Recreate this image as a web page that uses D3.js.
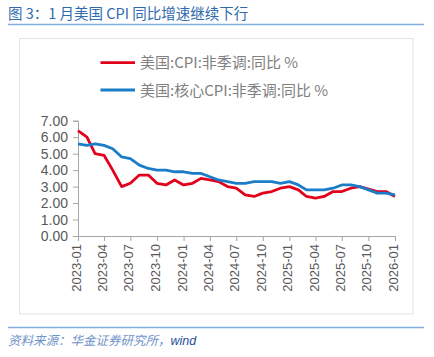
<!DOCTYPE html>
<html><head><meta charset="utf-8">
<script src="https://cdn.jsdelivr.net/npm/d3@7"></script>
<style>
body{margin:0;background:#fff;}
svg{display:block;font-family:"Liberation Sans",Arial,"Noto Sans CJK SC",sans-serif;}
</style></head><body>
<svg id="c" width="434" height="357"></svg>
<script>
const months = ["2023-01","2023-02","2023-03","2023-04","2023-05","2023-06","2023-07","2023-08","2023-09","2023-10","2023-11","2023-12",
"2024-01","2024-02","2024-03","2024-04","2024-05","2024-06","2024-07","2024-08","2024-09","2024-10","2024-11","2024-12",
"2025-01","2025-02","2025-03","2025-04","2025-05","2025-06","2025-07","2025-08","2025-09","2025-10","2025-11","2025-12","2026-01"];
const cpi = [6.4,6.0,5.0,4.9,4.0,3.0,3.2,3.7,3.7,3.2,3.1,3.4,
3.1,3.2,3.5,3.4,3.3,3.0,2.9,2.5,2.4,2.6,2.7,2.9,
3.0,2.8,2.4,2.3,2.4,2.7,2.7,2.9,3.0,null,2.7,2.7,2.4];
const coreCpi = [5.6,5.5,5.6,5.5,5.3,4.8,4.7,4.3,4.1,4.0,4.0,3.9,
3.9,3.8,3.8,3.6,3.4,3.3,3.2,3.2,3.3,3.3,3.3,3.2,
3.3,3.1,2.8,2.8,2.8,2.9,3.1,3.1,3.0,null,2.6,2.6,2.5];
const yTicks = [0,1,2,3,4,5,6,7];
const seriesNames = ["美国:CPI:非季调:同比 %","美国:核心CPI:非季调:同比 %"];
const seriesColors = ["#e3001b","#1b7cc8"];

const svg = d3.select("#c");
const parse = d3.timeParse("%Y-%m");
const dates = months.map(parse);

// title
svg.append("text").attr("x",8).attr("y",19).attr("font-size",14.5)
  .attr("fill","#2f6aae").attr("font-family","'Noto Sans CJK SC','Liberation Sans',sans-serif")
  .text("图 3：1 月美国 CPI 同比增速继续下行");
svg.append("line").attr("x1",8).attr("x2",424).attr("y1",24.5).attr("y2",24.5)
  .attr("stroke","#80b1dc").attr("stroke-width",1.5);

// frame
svg.append("rect").attr("x",19.5).attr("y",38.5).attr("width",393.5).attr("height",275.5)
  .attr("fill","none").attr("stroke","#e2e2e2").attr("stroke-width",1);

const x = d3.scaleTime().domain([dates[0], dates[dates.length-1]]).range([78,395]);
const y = d3.scaleLinear().domain([0,7]).range([236,120.7]);

// y axis
const ya = svg.append("g").attr("transform","translate(78,0)")
  .call(d3.axisLeft(y).tickValues(yTicks).tickFormat(d3.format(".2f")).tickSize(5).tickPadding(5));
ya.select(".domain").attr("stroke","#a6a6a6");
ya.selectAll(".tick line").attr("stroke","#a6a6a6");
ya.selectAll("text").attr("font-size",14).attr("fill","#595959").attr("font-family","'Liberation Sans',Arial,sans-serif");

// x axis
const xa = svg.append("g").attr("transform","translate(0,236)")
  .call(d3.axisBottom(x).ticks(d3.timeMonth.every(3)).tickFormat(d3.timeFormat("%Y-%m")).tickSize(5).tickSizeOuter(5));
xa.select(".domain").attr("stroke","#a6a6a6");
xa.selectAll(".tick line").attr("stroke","#a6a6a6");
xa.selectAll("text").attr("font-size",13).attr("fill","#595959")
  .attr("font-family","'Liberation Sans',Arial,sans-serif")
  .attr("text-anchor","end").attr("transform","translate(-2,8) rotate(-90)")
  .attr("x",0).attr("y",0).attr("dy","0.35em");

// lines
const data = [cpi, coreCpi];
data.forEach((vals,i)=>{
  const pts = vals.map((v,j)=>({d:dates[j],v})).filter(p=>p.v!=null);
  svg.append("path").datum(pts)
    .attr("fill","none").attr("stroke",seriesColors[i]).attr("stroke-width",2.8)
    .attr("stroke-linejoin","round")
    .attr("d", d3.line().x(p=>x(p.d)).y(p=>y(p.v)));
});

// legend
seriesNames.forEach((n,i)=>{
  const ly = 62.7 + i*27.3;
  svg.append("line").attr("x1",100.5).attr("x2",135).attr("y1",ly).attr("y2",ly)
    .attr("stroke",seriesColors[i]).attr("stroke-width",2.8);
  svg.append("text").attr("x",140).attr("y",ly+5.5).attr("font-size",15).attr("fill","#808080")
    .attr("font-family","'Noto Sans CJK SC','Liberation Sans',sans-serif").text(n);
});

// source
svg.append("line").attr("x1",8).attr("x2",424).attr("y1",327.5).attr("y2",327.5)
  .attr("stroke","#80b1dc").attr("stroke-width",1.5);
const src = svg.append("text").attr("x",8).attr("y",345).attr("font-size",12.5).attr("font-style","italic")
  .attr("font-family","'Noto Sans CJK SC','Liberation Sans',sans-serif");
src.append("tspan").attr("fill","#6f93c8").text("资料来源：华金证券研究所，");
src.append("tspan").attr("fill","#24519c").attr("font-family","'Liberation Sans',Arial,sans-serif").text("wind");
</script>
</body></html>
